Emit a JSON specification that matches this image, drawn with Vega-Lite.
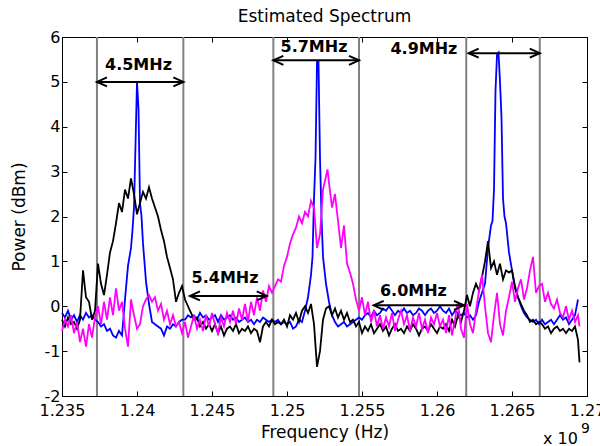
{
"$schema":"https://vega.github.io/schema/vega-lite/v6.json",
"width":525,"height":359,
"autosize":"none",
"padding":{"left":62,"top":37,"right":13,"bottom":50},
"background":"white",
"title":{"text":"Estimated Spectrum","fontSize":17,"fontWeight":"normal","font":"DejaVu Sans","color":"black","offset":3},
"config":{
 "view":{"stroke":"black","strokeWidth":1},
 "axis":{"domainColor":"black","tickColor":"black","labelColor":"black","titleColor":"black","labelFont":"DejaVu Sans","titleFont":"DejaVu Sans","labelFontSize":16,"titleFontSize":17,"titleFontWeight":"normal","grid":false,"labelOverlap":false,"tickSize":-5},
 "text":{"font":"DejaVu Sans","color":"black"}
},
"datasets":{
"blue":[
{"f":1.2350,"p":-0.15},{"f":1.2352,"p":-0.25},{"f":1.2354,"p":-0.1},{"f":1.2356,"p":-0.3},{"f":1.2358,"p":-0.2},{"f":1.2360,"p":-0.35},{"f":1.2362,"p":-0.2},{"f":1.2364,"p":-0.3},{"f":1.2366,"p":-0.15},{"f":1.2368,"p":-0.25},
{"f":1.2370,"p":-0.2},{"f":1.2372,"p":-0.3},{"f":1.2374,"p":-0.35},{"f":1.2376,"p":-0.45},{"f":1.2378,"p":-0.4},{"f":1.2380,"p":-0.55},{"f":1.2382,"p":-0.5},{"f":1.2384,"p":-0.65},{"f":1.2386,"p":-0.7},{"f":1.2388,"p":-0.55},
{"f":1.2390,"p":-0.65},{"f":1.2392,"p":0.15},{"f":1.2394,"p":0.9},{"f":1.2396,"p":1.3},{"f":1.2397,"p":1.7},{"f":1.2398,"p":2.2},{"f":1.2399,"p":3.6},{"f":1.2400,"p":5.0},{"f":1.2401,"p":4.4},{"f":1.2402,"p":2.3},{"f":1.2403,"p":2.0},{"f":1.2404,"p":1.4},{"f":1.2406,"p":0.55},{"f":1.2408,"p":0.05},
{"f":1.2410,"p":-0.35},{"f":1.2412,"p":-0.4},{"f":1.2414,"p":-0.45},{"f":1.2416,"p":-0.5},{"f":1.2418,"p":-0.65},{"f":1.2420,"p":-0.45},{"f":1.2422,"p":-0.5},{"f":1.2424,"p":-0.4},{"f":1.2426,"p":-0.45},{"f":1.2428,"p":-0.35},
{"f":1.2430,"p":-0.3},{"f":1.2432,"p":-0.3},{"f":1.2434,"p":-0.2},{"f":1.2436,"p":-0.25},{"f":1.2438,"p":-0.2},{"f":1.2440,"p":-0.3},{"f":1.2442,"p":-0.15},{"f":1.2444,"p":-0.25},{"f":1.2446,"p":-0.2},{"f":1.2448,"p":-0.3},
{"f":1.2450,"p":-0.25},{"f":1.2452,"p":-0.2},{"f":1.2454,"p":-0.35},{"f":1.2456,"p":-0.2},{"f":1.2458,"p":-0.3},{"f":1.2460,"p":-0.25},{"f":1.2462,"p":-0.2},{"f":1.2464,"p":-0.3},{"f":1.2466,"p":-0.25},{"f":1.2468,"p":-0.35},
{"f":1.2470,"p":-0.3},{"f":1.2472,"p":-0.25},{"f":1.2474,"p":-0.35},{"f":1.2476,"p":-0.3},{"f":1.2478,"p":-0.4},{"f":1.2480,"p":-0.3},{"f":1.2482,"p":-0.35},{"f":1.2484,"p":-0.25},{"f":1.2486,"p":-0.3},{"f":1.2488,"p":-0.35},
{"f":1.2490,"p":-0.3},{"f":1.2492,"p":-0.35},{"f":1.2494,"p":-0.3},{"f":1.2496,"p":-0.4},{"f":1.2498,"p":-0.35},{"f":1.2500,"p":-0.4},{"f":1.2502,"p":-0.35},{"f":1.2504,"p":-0.5},{"f":1.2506,"p":-0.45},{"f":1.2508,"p":-0.3},
{"f":1.2510,"p":-0.35},{"f":1.2512,"p":-0.1},{"f":1.2514,"p":0.2},{"f":1.2516,"p":0.7},{"f":1.2517,"p":1.1},{"f":1.2518,"p":2.4},{"f":1.2519,"p":3.3},{"f":1.2520,"p":5.45},{"f":1.2521,"p":5.45},{"f":1.2522,"p":3.3},{"f":1.2523,"p":2.0},{"f":1.2524,"p":1.1},{"f":1.2526,"p":0.5},{"f":1.2528,"p":0.1},
{"f":1.2530,"p":-0.2},{"f":1.2532,"p":-0.35},{"f":1.2534,"p":-0.45},{"f":1.2536,"p":-0.4},{"f":1.2538,"p":-0.35},{"f":1.2540,"p":-0.45},{"f":1.2542,"p":-0.4},{"f":1.2544,"p":-0.35},{"f":1.2546,"p":-0.3},{"f":1.2548,"p":-0.25},
{"f":1.2550,"p":-0.3},{"f":1.2552,"p":-0.2},{"f":1.2554,"p":-0.15},{"f":1.2556,"p":-0.25},{"f":1.2558,"p":-0.1},{"f":1.2560,"p":-0.2},{"f":1.2562,"p":-0.15},{"f":1.2564,"p":-0.05},{"f":1.2566,"p":-0.1},{"f":1.2568,"p":0.0},
{"f":1.2570,"p":-0.1},{"f":1.2572,"p":-0.2},{"f":1.2574,"p":-0.1},{"f":1.2576,"p":-0.15},{"f":1.2578,"p":-0.05},{"f":1.2580,"p":-0.15},{"f":1.2582,"p":-0.1},{"f":1.2584,"p":-0.2},{"f":1.2586,"p":-0.15},{"f":1.2588,"p":-0.05},
{"f":1.2590,"p":-0.1},{"f":1.2592,"p":-0.2},{"f":1.2594,"p":-0.1},{"f":1.2596,"p":-0.05},{"f":1.2598,"p":-0.15},{"f":1.2600,"p":-0.1},{"f":1.2602,"p":0.0},{"f":1.2604,"p":-0.1},{"f":1.2606,"p":-0.15},{"f":1.2608,"p":-0.05},
{"f":1.2610,"p":-0.2},{"f":1.2612,"p":-0.1},{"f":1.2614,"p":-0.15},{"f":1.2616,"p":-0.2},{"f":1.2618,"p":-0.15},{"f":1.2620,"p":-0.25},{"f":1.2622,"p":-0.2},{"f":1.2624,"p":-0.3},{"f":1.2626,"p":-0.2},{"f":1.2628,"p":0.1},
{"f":1.2630,"p":0.3},{"f":1.2632,"p":0.5},{"f":1.2634,"p":1.3},{"f":1.2636,"p":1.8},{"f":1.2637,"p":1.9},{"f":1.2638,"p":2.6},{"f":1.2639,"p":4.8},{"f":1.2640,"p":5.6},{"f":1.2641,"p":5.65},{"f":1.2642,"p":5.0},{"f":1.2643,"p":4.2},{"f":1.2644,"p":2.4},{"f":1.2645,"p":2.0},{"f":1.2646,"p":1.85},{"f":1.2648,"p":1.2},
{"f":1.2650,"p":0.8},{"f":1.2652,"p":0.45},{"f":1.2654,"p":0.2},{"f":1.2656,"p":0.0},{"f":1.2658,"p":-0.15},{"f":1.2660,"p":-0.25},{"f":1.2662,"p":-0.3},{"f":1.2664,"p":-0.35},{"f":1.2666,"p":-0.3},{"f":1.2668,"p":-0.4},
{"f":1.2670,"p":-0.3},{"f":1.2672,"p":-0.4},{"f":1.2674,"p":-0.35},{"f":1.2676,"p":-0.3},{"f":1.2678,"p":-0.4},{"f":1.2680,"p":-0.3},{"f":1.2682,"p":-0.2},{"f":1.2684,"p":-0.3},{"f":1.2686,"p":-0.25},{"f":1.2688,"p":-0.4},
{"f":1.2690,"p":-0.3},{"f":1.2692,"p":-0.2},{"f":1.2694,"p":0.15}
],
"black":[
{"f":1.2350,"p":-0.3},{"f":1.2352,"p":-0.45},{"f":1.2354,"p":-0.25},{"f":1.2356,"p":-0.4},{"f":1.2358,"p":-0.35},{"f":1.2360,"p":-0.5},{"f":1.2362,"p":-0.3},{"f":1.2364,"p":0.8},{"f":1.2366,"p":0.2},{"f":1.2368,"p":0.1},
{"f":1.2370,"p":-0.3},{"f":1.2372,"p":-0.1},{"f":1.2374,"p":0.95},{"f":1.2376,"p":0.5},{"f":1.2378,"p":0.25},{"f":1.2380,"p":0.7},{"f":1.2382,"p":1.2},{"f":1.2384,"p":1.45},{"f":1.2386,"p":1.85},{"f":1.2388,"p":2.3},
{"f":1.2390,"p":2.1},{"f":1.2392,"p":2.6},{"f":1.2394,"p":2.4},{"f":1.2396,"p":2.85},{"f":1.2398,"p":2.5},{"f":1.2400,"p":2.05},{"f":1.2402,"p":2.3},{"f":1.2404,"p":2.55},{"f":1.2406,"p":2.4},{"f":1.2408,"p":2.65},
{"f":1.2410,"p":2.4},{"f":1.2412,"p":2.2},{"f":1.2414,"p":2.0},{"f":1.2416,"p":1.7},{"f":1.2418,"p":1.45},{"f":1.2420,"p":1.1},{"f":1.2422,"p":0.85},{"f":1.2424,"p":0.6},{"f":1.2426,"p":0.1},{"f":1.2428,"p":0.3},
{"f":1.2430,"p":0.45},{"f":1.2432,"p":0.15},{"f":1.2434,"p":0.0},{"f":1.2436,"p":-0.15},{"f":1.2438,"p":-0.3},{"f":1.2440,"p":-0.25},{"f":1.2442,"p":-0.45},{"f":1.2444,"p":-0.35},{"f":1.2446,"p":-0.5},{"f":1.2448,"p":-0.4},
{"f":1.2450,"p":-0.55},{"f":1.2452,"p":-0.4},{"f":1.2454,"p":-0.6},{"f":1.2456,"p":-0.45},{"f":1.2458,"p":-0.65},{"f":1.2460,"p":-0.5},{"f":1.2462,"p":-0.45},{"f":1.2464,"p":-0.55},{"f":1.2466,"p":-0.4},{"f":1.2468,"p":-0.6},
{"f":1.2470,"p":-0.5},{"f":1.2472,"p":-0.55},{"f":1.2474,"p":-0.45},{"f":1.2476,"p":-0.6},{"f":1.2478,"p":-0.5},{"f":1.2480,"p":-0.55},{"f":1.2482,"p":-0.8},{"f":1.2484,"p":-0.45},{"f":1.2486,"p":-0.35},{"f":1.2488,"p":-0.45},
{"f":1.2490,"p":-0.3},{"f":1.2492,"p":-0.4},{"f":1.2494,"p":-0.35},{"f":1.2496,"p":-0.4},{"f":1.2498,"p":-0.3},{"f":1.2500,"p":-0.45},{"f":1.2502,"p":-0.2},{"f":1.2504,"p":-0.3},{"f":1.2506,"p":-0.15},{"f":1.2508,"p":-0.35},
{"f":1.2510,"p":-0.1},{"f":1.2512,"p":0.0},{"f":1.2514,"p":-0.15},{"f":1.2516,"p":0.05},{"f":1.2518,"p":-0.4},{"f":1.2520,"p":-1.35},{"f":1.2522,"p":-1.0},{"f":1.2524,"p":-0.3},{"f":1.2526,"p":-0.05},{"f":1.2528,"p":0.0},
{"f":1.2530,"p":-0.2},{"f":1.2532,"p":-0.05},{"f":1.2534,"p":-0.25},{"f":1.2536,"p":-0.1},{"f":1.2538,"p":-0.3},{"f":1.2540,"p":-0.15},{"f":1.2542,"p":-0.35},{"f":1.2544,"p":-0.3},{"f":1.2546,"p":-0.45},{"f":1.2548,"p":-0.35},
{"f":1.2550,"p":-0.6},{"f":1.2552,"p":-0.45},{"f":1.2554,"p":-0.55},{"f":1.2556,"p":-0.4},{"f":1.2558,"p":-0.6},{"f":1.2560,"p":-0.5},{"f":1.2562,"p":-0.4},{"f":1.2564,"p":-0.55},{"f":1.2566,"p":-0.45},{"f":1.2568,"p":-0.65},
{"f":1.2570,"p":-0.5},{"f":1.2572,"p":-0.4},{"f":1.2574,"p":-0.55},{"f":1.2576,"p":-0.5},{"f":1.2578,"p":-0.6},{"f":1.2580,"p":-0.45},{"f":1.2582,"p":-0.55},{"f":1.2584,"p":-0.4},{"f":1.2586,"p":-0.5},{"f":1.2588,"p":-0.65},
{"f":1.2590,"p":-0.5},{"f":1.2592,"p":-0.45},{"f":1.2594,"p":-0.55},{"f":1.2596,"p":-0.4},{"f":1.2598,"p":-0.5},{"f":1.2600,"p":-0.6},{"f":1.2602,"p":-0.45},{"f":1.2604,"p":-0.5},{"f":1.2606,"p":-0.4},{"f":1.2608,"p":-0.55},
{"f":1.2610,"p":-0.3},{"f":1.2612,"p":-0.45},{"f":1.2614,"p":-0.2},{"f":1.2616,"p":-0.35},{"f":1.2618,"p":-0.1},{"f":1.2620,"p":0.25},{"f":1.2622,"p":0.0},{"f":1.2624,"p":0.3},{"f":1.2626,"p":0.5},{"f":1.2628,"p":0.35},
{"f":1.2630,"p":0.65},{"f":1.2632,"p":1.0},{"f":1.2634,"p":1.45},{"f":1.2636,"p":0.85},{"f":1.2638,"p":1.0},{"f":1.2640,"p":0.7},{"f":1.2642,"p":0.95},{"f":1.2644,"p":0.6},{"f":1.2646,"p":0.8},{"f":1.2648,"p":0.75},
{"f":1.2650,"p":0.8},{"f":1.2652,"p":0.4},{"f":1.2654,"p":0.2},{"f":1.2656,"p":0.05},{"f":1.2658,"p":-0.1},{"f":1.2660,"p":-0.2},{"f":1.2662,"p":-0.35},{"f":1.2664,"p":-0.3},{"f":1.2666,"p":-0.4},{"f":1.2668,"p":-0.35},
{"f":1.2670,"p":-0.4},{"f":1.2672,"p":-0.5},{"f":1.2674,"p":-0.45},{"f":1.2676,"p":-0.6},{"f":1.2678,"p":-0.5},{"f":1.2680,"p":-0.45},{"f":1.2682,"p":-0.55},{"f":1.2684,"p":-0.5},{"f":1.2686,"p":-0.6},{"f":1.2688,"p":-0.5},
{"f":1.2690,"p":-0.55},{"f":1.2692,"p":-0.45},{"f":1.2694,"p":-0.75},{"f":1.2695,"p":-1.25}
],
"magenta":[
{"f":1.2350,"p":-0.55},{"f":1.2352,"p":-0.3},{"f":1.2354,"p":-0.45},{"f":1.2356,"p":-0.2},{"f":1.2358,"p":-0.6},{"f":1.2360,"p":-0.35},{"f":1.2362,"p":-0.8},{"f":1.2364,"p":-0.5},{"f":1.2366,"p":-0.9},{"f":1.2368,"p":-0.4},
{"f":1.2370,"p":-0.7},{"f":1.2372,"p":-0.25},{"f":1.2374,"p":0.0},{"f":1.2376,"p":-0.4},{"f":1.2378,"p":0.1},{"f":1.2380,"p":-0.3},{"f":1.2382,"p":0.2},{"f":1.2384,"p":-0.2},{"f":1.2386,"p":0.4},{"f":1.2388,"p":-0.1},
{"f":1.2390,"p":0.1},{"f":1.2392,"p":-0.5},{"f":1.2394,"p":-0.9},{"f":1.2396,"p":0.15},{"f":1.2398,"p":-0.2},{"f":1.2400,"p":-0.5},{"f":1.2402,"p":-0.4},{"f":1.2404,"p":0.0},{"f":1.2406,"p":0.15},{"f":1.2408,"p":0.25},
{"f":1.2410,"p":0.1},{"f":1.2412,"p":0.2},{"f":1.2414,"p":-0.1},{"f":1.2416,"p":0.05},{"f":1.2418,"p":-0.3},{"f":1.2420,"p":-0.1},{"f":1.2422,"p":-0.4},{"f":1.2424,"p":-0.2},{"f":1.2426,"p":-0.45},{"f":1.2428,"p":-0.35},
{"f":1.2430,"p":-0.6},{"f":1.2432,"p":-0.35},{"f":1.2434,"p":-0.7},{"f":1.2436,"p":-0.45},{"f":1.2438,"p":-0.2},{"f":1.2440,"p":-0.5},{"f":1.2442,"p":-0.3},{"f":1.2444,"p":-0.55},{"f":1.2446,"p":-0.2},{"f":1.2448,"p":-0.45},
{"f":1.2450,"p":-0.15},{"f":1.2452,"p":-0.4},{"f":1.2454,"p":-0.6},{"f":1.2456,"p":-0.25},{"f":1.2458,"p":-0.45},{"f":1.2460,"p":-0.15},{"f":1.2462,"p":-0.35},{"f":1.2464,"p":-0.1},{"f":1.2466,"p":-0.4},{"f":1.2468,"p":-0.05},
{"f":1.2470,"p":-0.3},{"f":1.2472,"p":0.05},{"f":1.2474,"p":-0.35},{"f":1.2476,"p":0.1},{"f":1.2478,"p":-0.2},{"f":1.2480,"p":0.2},{"f":1.2482,"p":-0.1},{"f":1.2484,"p":0.35},{"f":1.2486,"p":0.1},{"f":1.2488,"p":0.45},
{"f":1.2490,"p":0.3},{"f":1.2492,"p":0.45},{"f":1.2494,"p":0.6},{"f":1.2496,"p":0.55},{"f":1.2498,"p":0.9},{"f":1.2500,"p":1.1},{"f":1.2502,"p":1.4},{"f":1.2504,"p":1.6},{"f":1.2506,"p":1.75},{"f":1.2508,"p":2.0},
{"f":1.2510,"p":1.85},{"f":1.2512,"p":2.1},{"f":1.2514,"p":2.0},{"f":1.2516,"p":2.35},{"f":1.2518,"p":2.2},{"f":1.2520,"p":1.3},{"f":1.2522,"p":1.6},{"f":1.2524,"p":2.6},{"f":1.2526,"p":2.9},{"f":1.2527,"p":3.05},{"f":1.2528,"p":2.75},
{"f":1.2530,"p":2.2},{"f":1.2532,"p":2.5},{"f":1.2534,"p":1.9},{"f":1.2536,"p":1.3},{"f":1.2538,"p":1.8},{"f":1.2540,"p":0.95},{"f":1.2542,"p":0.75},{"f":1.2544,"p":0.5},{"f":1.2546,"p":0.15},{"f":1.2548,"p":-0.1},
{"f":1.2550,"p":0.2},{"f":1.2552,"p":-0.2},{"f":1.2554,"p":0.1},{"f":1.2556,"p":-0.35},{"f":1.2558,"p":-0.1},{"f":1.2560,"p":-0.45},{"f":1.2562,"p":-0.2},{"f":1.2564,"p":-0.5},{"f":1.2566,"p":-0.25},{"f":1.2568,"p":-0.45},
{"f":1.2570,"p":-0.15},{"f":1.2572,"p":-0.55},{"f":1.2574,"p":-0.3},{"f":1.2576,"p":-0.1},{"f":1.2578,"p":-0.4},{"f":1.2580,"p":-0.2},{"f":1.2582,"p":-0.55},{"f":1.2584,"p":-0.25},{"f":1.2586,"p":-0.45},{"f":1.2588,"p":-0.15},
{"f":1.2590,"p":-0.5},{"f":1.2592,"p":-0.3},{"f":1.2594,"p":-0.6},{"f":1.2596,"p":-0.25},{"f":1.2598,"p":-0.4},{"f":1.2600,"p":-0.15},{"f":1.2602,"p":-0.45},{"f":1.2604,"p":-0.3},{"f":1.2606,"p":-0.6},{"f":1.2608,"p":-0.2},
{"f":1.2610,"p":-0.65},{"f":1.2612,"p":-0.3},{"f":1.2614,"p":0.1},{"f":1.2616,"p":-0.5},{"f":1.2618,"p":-0.7},{"f":1.2620,"p":0.05},{"f":1.2622,"p":-0.4},{"f":1.2624,"p":-0.6},{"f":1.2626,"p":-0.1},{"f":1.2628,"p":0.35},
{"f":1.2630,"p":0.7},{"f":1.2632,"p":0.0},{"f":1.2634,"p":-0.6},{"f":1.2636,"p":-0.8},{"f":1.2638,"p":-0.2},{"f":1.2640,"p":0.3},{"f":1.2642,"p":-0.4},{"f":1.2644,"p":-0.65},{"f":1.2646,"p":-0.1},{"f":1.2648,"p":0.2},
{"f":1.2650,"p":0.55},{"f":1.2652,"p":0.1},{"f":1.2654,"p":0.4},{"f":1.2656,"p":0.6},{"f":1.2658,"p":0.15},{"f":1.2660,"p":0.4},{"f":1.2662,"p":0.8},{"f":1.2664,"p":1.1},{"f":1.2666,"p":0.3},{"f":1.2668,"p":0.45},
{"f":1.2670,"p":0.5},{"f":1.2672,"p":0.1},{"f":1.2674,"p":0.3},{"f":1.2676,"p":0.05},{"f":1.2678,"p":-0.05},{"f":1.2680,"p":0.15},{"f":1.2682,"p":-0.15},{"f":1.2684,"p":-0.25},{"f":1.2686,"p":0.0},{"f":1.2688,"p":-0.3},
{"f":1.2690,"p":-0.1},{"f":1.2692,"p":-0.35},{"f":1.2694,"p":-0.2},{"f":1.2695,"p":-0.45}
],
"bounds":[{"f":1.23733},{"f":1.24309},{"f":1.24909},{"f":1.2548},{"f":1.26195},{"f":1.26685}],
"arrows":[
{"x1":1.23733,"x2":1.24309,"y":5.0,"label":"4.5MHz","lx":1.2401,"ly":5.37},
{"x1":1.24909,"x2":1.2548,"y":5.48,"label":"5.7MHz","lx":1.2518,"ly":5.78},
{"x1":1.26211,"x2":1.26685,"y":5.64,"label":"4.9MHz","lx":1.25913,"ly":5.73},
{"x1":1.24353,"x2":1.24865,"y":0.23,"label":"5.4MHz","lx":1.24587,"ly":0.62},
{"x1":1.25578,"x2":1.2618,"y":0.02,"label":"6.0MHz","lx":1.25843,"ly":0.34}
],
"expo":[{"f":1.26707,"p":-3.065,"t":"x 10"}],
"expo2":[{"f":1.2696,"p":-2.82,"t":"9"}]
},
"resolve":{"axis":{"x":"independent","y":"independent"}},
"layer":[
{"data":{"name":"bounds"},"mark":{"type":"rule","color":"#808080","strokeWidth":2},
 "encoding":{"x":{"field":"f","type":"quantitative","scale":{"domain":[1.235,1.27],"nice":false,"zero":false},"axis":null}}},
{"data":{"name":"blue"},"mark":{"type":"line","color":"#0000ff","strokeWidth":1.8},
 "encoding":{
  "x":{"field":"f","type":"quantitative","scale":{"domain":[1.235,1.27],"nice":false,"zero":false},
   "axis":{"orient":"bottom","title":"Frequency (Hz)","values":[1.235,1.24,1.245,1.25,1.255,1.26,1.265,1.27],"format":".3~f","labelFlush":false,"labelPadding":11,"titlePadding":6}},
  "y":{"field":"p","type":"quantitative","scale":{"domain":[-2,6],"nice":false,"zero":false},
   "axis":{"orient":"left","title":"Power (dBm)","values":[-2,-1,0,1,2,3,4,5,6],"labelExpr":"'' + datum.value","labelPadding":7,"titlePadding":16}}}},
{"data":{"name":"black"},"mark":{"type":"line","color":"#000000","strokeWidth":1.8},
 "encoding":{
  "x":{"field":"f","type":"quantitative","scale":{"domain":[1.235,1.27],"nice":false,"zero":false},"axis":null},
  "y":{"field":"p","type":"quantitative","scale":{"domain":[-2,6],"nice":false,"zero":false},"axis":null}}},
{"data":{"name":"magenta"},"mark":{"type":"line","color":"#ff00ff","strokeWidth":1.8},
 "encoding":{
  "x":{"field":"f","type":"quantitative","scale":{"domain":[1.235,1.27],"nice":false,"zero":false},"axis":null},
  "y":{"field":"p","type":"quantitative","scale":{"domain":[-2,6],"nice":false,"zero":false},"axis":null}}},
{"data":{"name":"arrows"},"mark":{"type":"rule","color":"black","strokeWidth":2},
 "encoding":{
  "x":{"field":"x1","type":"quantitative","scale":{"domain":[1.235,1.27],"nice":false,"zero":false},
   "axis":{"orient":"top","labels":false,"title":null,"values":[1.235,1.24,1.245,1.25,1.255,1.26,1.265,1.27]}},
  "x2":{"field":"x2"},
  "y":{"field":"y","type":"quantitative","scale":{"domain":[-2,6],"nice":false,"zero":false},
   "axis":{"orient":"right","labels":false,"title":null,"values":[-2,-1,0,1,2,3,4,5,6]}}}},
{"data":{"name":"arrows"},"mark":{"type":"point","shape":"M2,-0.9L0,0L2,0.9","size":100,"filled":false,"stroke":"black","strokeWidth":2,"opacity":1},
 "encoding":{
  "x":{"field":"x1","type":"quantitative","scale":{"domain":[1.235,1.27],"nice":false,"zero":false},"axis":null},
  "y":{"field":"y","type":"quantitative","scale":{"domain":[-2,6],"nice":false,"zero":false},"axis":null}}},
{"data":{"name":"arrows"},"mark":{"type":"point","shape":"M-2,-0.9L0,0L-2,0.9","size":100,"filled":false,"stroke":"black","strokeWidth":2,"opacity":1},
 "encoding":{
  "x":{"field":"x2","type":"quantitative","scale":{"domain":[1.235,1.27],"nice":false,"zero":false},"axis":null},
  "y":{"field":"y","type":"quantitative","scale":{"domain":[-2,6],"nice":false,"zero":false},"axis":null}}},
{"data":{"name":"arrows"},"mark":{"type":"text","fontWeight":"bold","fontSize":16,"align":"center","baseline":"middle","color":"black"},
 "encoding":{
  "x":{"field":"lx","type":"quantitative","scale":{"domain":[1.235,1.27],"nice":false,"zero":false},"axis":null},
  "y":{"field":"ly","type":"quantitative","scale":{"domain":[-2,6],"nice":false,"zero":false},"axis":null},
  "text":{"field":"label"}}},
{"data":{"name":"expo"},"mark":{"type":"text","fontSize":16,"align":"left","baseline":"alphabetic","color":"black"},
 "encoding":{
  "x":{"field":"f","type":"quantitative","scale":{"domain":[1.235,1.27],"nice":false,"zero":false},"axis":null},
  "y":{"field":"p","type":"quantitative","scale":{"domain":[-2,6],"nice":false,"zero":false},"axis":null},
  "text":{"field":"t"}}},
{"data":{"name":"expo2"},"mark":{"type":"text","fontSize":14,"align":"left","baseline":"alphabetic","color":"black"},
 "encoding":{
  "x":{"field":"f","type":"quantitative","scale":{"domain":[1.235,1.27],"nice":false,"zero":false},"axis":null},
  "y":{"field":"p","type":"quantitative","scale":{"domain":[-2,6],"nice":false,"zero":false},"axis":null},
  "text":{"field":"t"}}}
]
}
